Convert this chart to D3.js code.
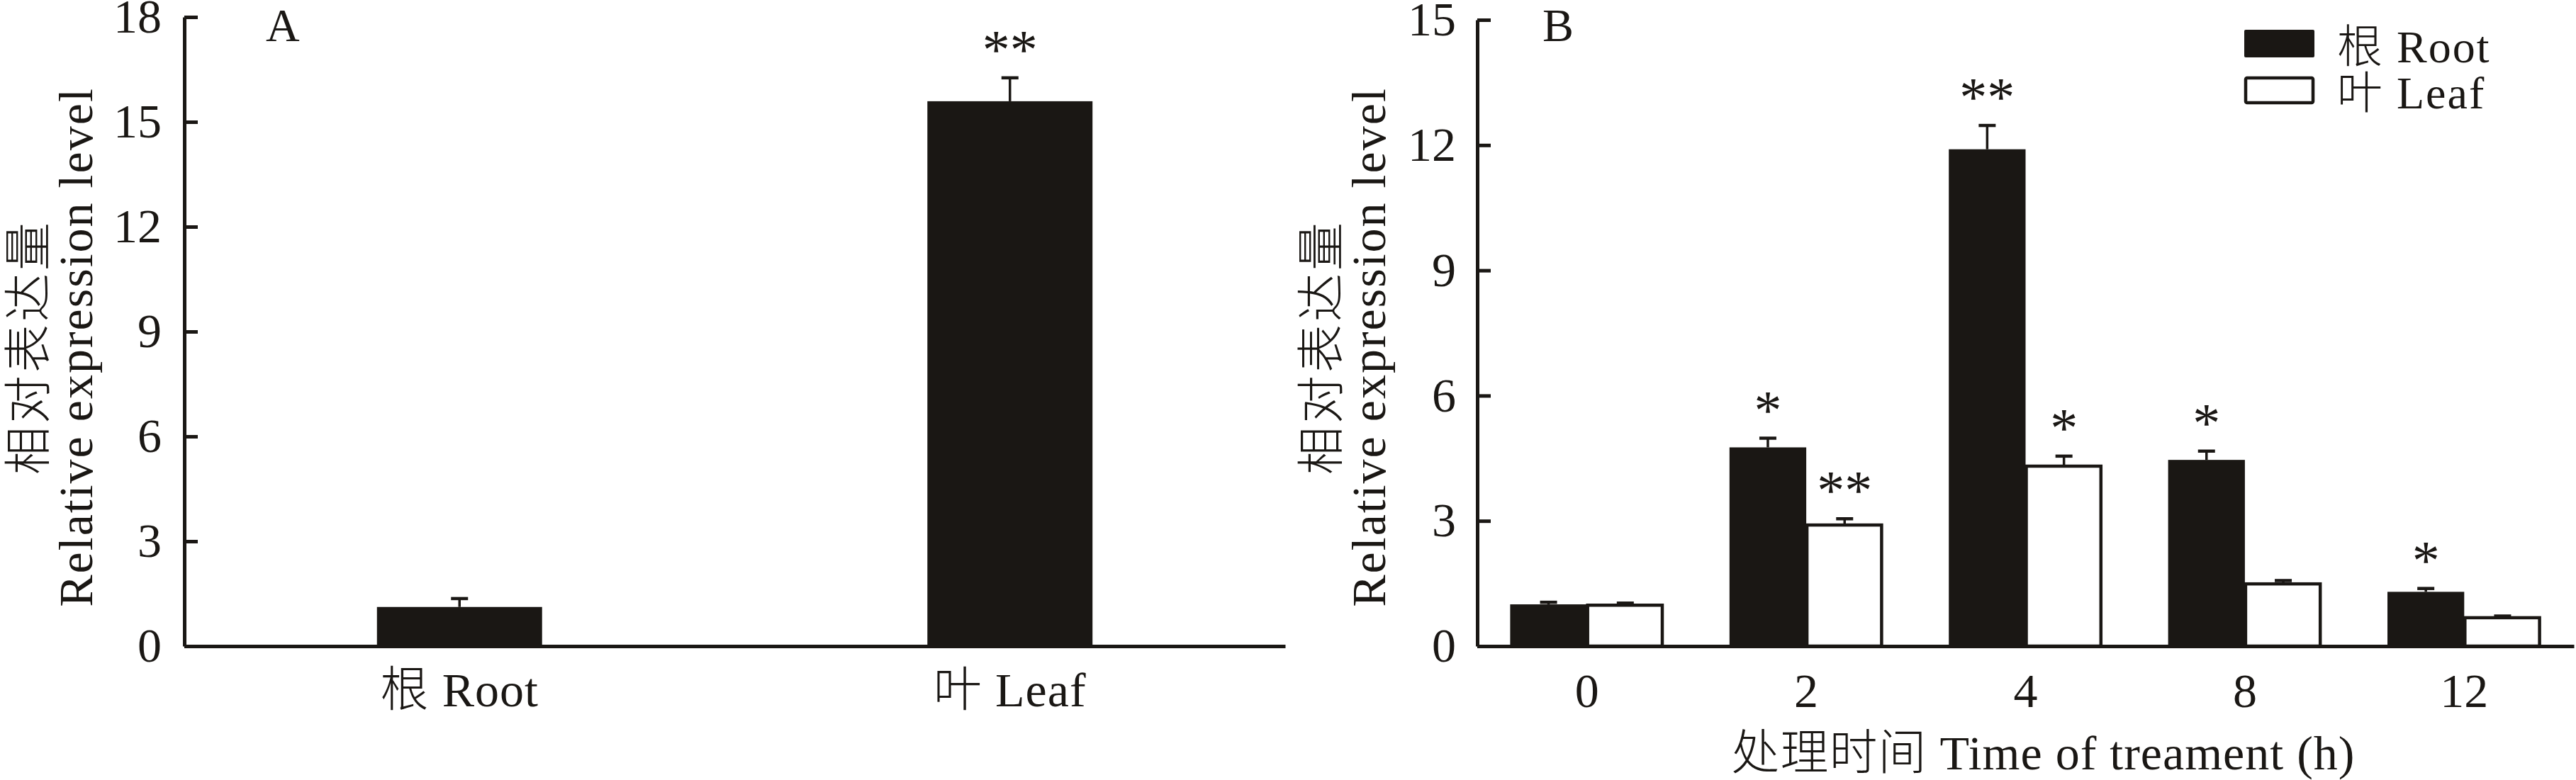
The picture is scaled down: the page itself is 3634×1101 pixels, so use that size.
<!DOCTYPE html>
<meta charset="utf-8">
<head>
    <style>
        body { margin: 0; background: #fff; }
        text { font-family: "Liberation Serif", "Noto Sans CJK SC", serif; fill: #1a1714; }
        .cjk { font-family: "Noto Sans CJK SC", sans-serif; font-weight: 300; }
        .axis path, .axis line { stroke: #1a1714; stroke-width: 5; }
        .axis text { font-size: 68px; font-family: "Liberation Serif", serif; fill: #1a1714; }
    </style>
</head>
<body>
<script src="https://cdn.jsdelivr.net/npm/d3@7"></script>
<script>
// panel A: tissues
var tissuesA = ["根 Root", "叶 Leaf"];
var valuesA = [1.12, 15.59];
var errorsA = [0.24, 0.67];
var sigA = ["", "**"];
var ticksA = [0, 3, 6, 9, 12, 15, 18];

// panel B: treatment time (h)
var timesB = ["0", "2", "4", "8", "12"];
var rootB = [1.0, 4.76, 11.9, 4.46, 1.30];
var rootErrB = [0.05, 0.22, 0.57, 0.21, 0.08];
var rootSigB = ["", "*", "**", "*", "*"];
var leafB = [0.98, 2.90, 4.31, 1.49, 0.68];
var leafErrB = [0.05, 0.15, 0.24, 0.08, 0.04];
var leafSigB = ["", "**", "*", "", ""];
var ticksB = [0, 3, 6, 9, 12, 15];
var seriesB = ["根 Root", "叶 Leaf"];

var W = 3634, H = 1101;
var dark = "#1a1714";

var svg = d3.select("body").append("svg")
    .attr("width", W)
    .attr("height", H);

// splits "根 Root" so the chinese part gets the CJK font
function mixedText(sel, str) {
    var i = str.indexOf(" ");
    sel.append("tspan").attr("class", "cjk").text(str.slice(0, i));
    sel.append("tspan").text(str.slice(i));
}

function yTitle(g, axisX, midY) {
    g.append("text")
        .attr("class", "cjk")
        .attr("transform", "translate(" + (axisX - 196) + "," + midY + ") rotate(-90)")
        .attr("text-anchor", "middle")
        .style("font-size", "68px")
        .style("letter-spacing", "4px")
        .text("相对表达量");
    g.append("text")
        .attr("transform", "translate(" + (axisX - 130) + "," + midY + ") rotate(-90)")
        .attr("text-anchor", "middle")
        .style("font-size", "68px")
        .style("letter-spacing", "2px")
        .text("Relative expression level");
}

function errBar(g, cx, yTop, yCap, sig) {
    g.append("line")
        .attr("x1", cx).attr("x2", cx)
        .attr("y1", yTop).attr("y2", yCap)
        .attr("stroke", dark).attr("stroke-width", 3.5);
    g.append("line")
        .attr("x1", cx - 12).attr("x2", cx + 12)
        .attr("y1", yCap).attr("y2", yCap)
        .attr("stroke", dark).attr("stroke-width", 4.5);
    if (sig) {
        g.append("text")
            .attr("x", cx).attr("y", yCap - 14)
            .attr("text-anchor", "middle")
            .style("font-size", "78px")
            .text(sig);
    }
}

/** PANEL A **/
var gA = svg.append("g");
var xA = d3.scaleBand().domain(tissuesA).range([260, 1813]).paddingInner(0.7).paddingOuter(0.35);
var yA = d3.scaleLinear().domain([0, 18]).range([912, 24]);

gA.selectAll("rect.bar")
    .data(tissuesA)
    .enter().append("rect")
    .attr("class", "bar")
    .attr("x", function (d) { return xA(d); })
    .attr("width", xA.bandwidth())
    .attr("y", function (d, i) { return yA(valuesA[i]); })
    .attr("height", function (d, i) { return yA(0) - yA(valuesA[i]); })
    .attr("fill", dark);

tissuesA.forEach(function (d, i) {
    errBar(gA, xA(d) + xA.bandwidth() / 2, yA(valuesA[i]), yA(valuesA[i] + errorsA[i]), sigA[i]);
});

gA.append("g")
    .attr("class", "axis")
    .attr("transform", "translate(0," + yA(0) + ")")
    .call(d3.axisBottom(xA).tickSize(0).tickSizeOuter(0).tickPadding(38).tickFormat(""))
    .selectAll(".tick text").remove();

gA.append("g").selectAll("text")
    .data(tissuesA)
    .enter().append("text")
    .attr("x", function (d) { return xA(d) + xA.bandwidth() / 2; })
    .attr("y", 997)
    .attr("text-anchor", "middle")
    .style("font-size", "68px")
    .style("letter-spacing", "1px")
    .each(function (d) { mixedText(d3.select(this), d); });

gA.append("g")
    .attr("class", "axis")
    .attr("transform", "translate(260,0)")
    .call(d3.axisLeft(yA).tickValues(ticksA).tickSize(-19).tickSizeOuter(0).tickPadding(32));

gA.append("text")
    .attr("x", 375).attr("y", 58)
    .style("font-size", "66px")
    .text("A");

yTitle(gA, 260, 490);

/** PANEL B **/
var gB = svg.append("g");
var xB = d3.scaleBand().domain(timesB).range([2084, 3631]).paddingInner(0.3).paddingOuter(0.15);
var xSub = d3.scaleBand().domain(seriesB).range([0, xB.bandwidth()]);
var yB = d3.scaleLinear().domain([0, 15]).range([912, 28]);

// root bars (black)
gB.selectAll("rect.root")
    .data(timesB)
    .enter().append("rect")
    .attr("class", "root")
    .attr("x", function (d) { return xB(d) + xSub(seriesB[0]); })
    .attr("width", xSub.bandwidth())
    .attr("y", function (d, i) { return yB(rootB[i]); })
    .attr("height", function (d, i) { return yB(0) - yB(rootB[i]); })
    .attr("fill", dark);

// leaf bars (white)
gB.selectAll("rect.leaf")
    .data(timesB)
    .enter().append("rect")
    .attr("class", "leaf")
    .attr("x", function (d) { return xB(d) + xSub(seriesB[1]) + 1; })
    .attr("width", xSub.bandwidth() - 3)
    .attr("y", function (d, i) { return yB(leafB[i]); })
    .attr("height", function (d, i) { return yB(0) - yB(leafB[i]); })
    .attr("fill", "#fff")
    .attr("stroke", dark)
    .attr("stroke-width", 4.5);

timesB.forEach(function (d, i) {
    var cr = xB(d) + xSub(seriesB[0]) + xSub.bandwidth() / 2;
    var cl = xB(d) + xSub(seriesB[1]) + xSub.bandwidth() / 2;
    errBar(gB, cr, yB(rootB[i]), yB(rootB[i] + rootErrB[i]), rootSigB[i]);
    errBar(gB, cl, yB(leafB[i]), yB(leafB[i] + leafErrB[i]), leafSigB[i]);
});

gB.append("g")
    .attr("class", "axis")
    .attr("transform", "translate(0," + yB(0) + ")")
    .call(d3.axisBottom(xB).tickSize(0).tickSizeOuter(0).tickPadding(38));

gB.append("g")
    .attr("class", "axis")
    .attr("transform", "translate(2084,0)")
    .call(d3.axisLeft(yB).tickValues(ticksB).tickSize(-19).tickSizeOuter(0).tickPadding(30));

gB.append("text")
    .attr("x", 2176).attr("y", 58)
    .style("font-size", "66px")
    .text("B");

gB.append("text")
    .attr("x", (xB.range()[0] + xB.range()[1]) / 2 + 25)
    .attr("y", 1086)
    .attr("text-anchor", "middle")
    .style("font-size", "68px")
    .style("letter-spacing", "1px")
    .each(function () {
        d3.select(this).append("tspan").attr("class", "cjk").text("处理时间");
        d3.select(this).append("tspan").text(" Time of treament (h)");
    });

yTitle(gB, 2084, 490);

// legend
var legend = gB.append("g").attr("transform", "translate(3166,42)");
legend.selectAll("rect")
    .data(seriesB)
    .enter().append("rect")
    .attr("x", function (d, i) { return i ? 2 : 0; })
    .attr("y", function (d, i) { return i * 66 + (i ? 2 : 0); })
    .attr("width", function (d, i) { return i ? 95 : 99; })
    .attr("height", function (d, i) { return i ? 35 : 39; })
    .attr("rx", 2)
    .attr("fill", function (d, i) { return i ? "#fff" : dark; })
    .attr("stroke", function (d, i) { return i ? dark : "none"; })
    .attr("stroke-width", 4.5);
legend.selectAll("text")
    .data(seriesB)
    .enter().append("text")
    .attr("x", 131)
    .attr("y", function (d, i) { return 46 + i * 65; })
    .style("font-size", "64px")
    .style("letter-spacing", "2px")
    .each(function (d) { mixedText(d3.select(this), d); });
</script>
</body>
